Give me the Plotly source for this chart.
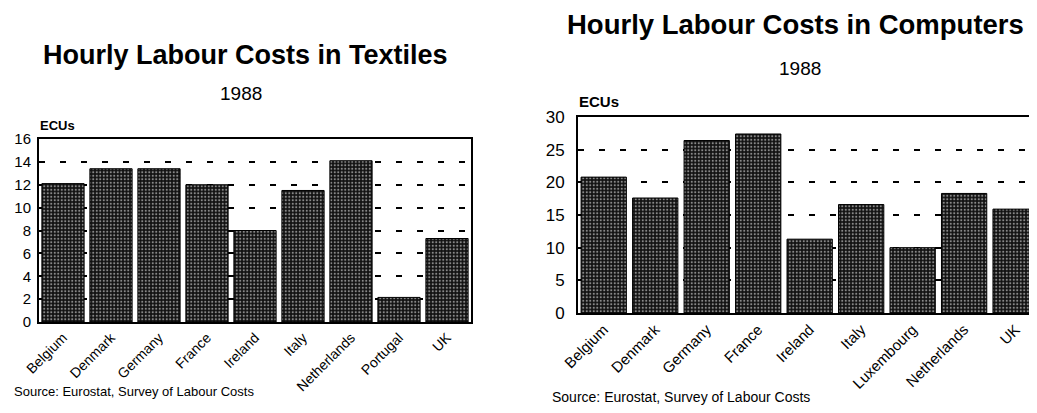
import plotly.graph_objects as go

# textiles, 1988 (ECUs per hour)
textile_countries = ["Belgium", "Denmark", "Germany", "France", "Ireland",
                     "Italy", "Netherlands", "Portugal", "UK"]
textile_costs = [12.1, 13.4, 13.4, 12.0, 8.0, 11.5, 14.1, 2.15, 7.3]

# computers, 1988 (ECUs per hour)
computer_countries = ["Belgium", "Denmark", "Germany", "France", "Ireland",
                      "Italy", "Luxembourg", "Netherlands", "UK"]
computer_costs = [20.8, 17.6, 26.4, 27.4, 11.3, 16.6, 10.0, 18.3, 15.9]

# the page body has an 8px margin, so the figure is a bit smaller than the window
OFF = 8
W, H = 1037 - 2 * OFF, 413 - 2 * OFF
FONT = "Arial, Liberation Sans, Helvetica, sans-serif"


def px(x):
    # window pixel -> paper fraction
    return (x - OFF) / W


def py(y):
    return 1 - (y - OFF) / H


bar_style = dict(
    color="black",
    line=dict(color="black", width=1),
    pattern=dict(shape=".", fgcolor="white", bgcolor="#111111",
                 size=3.5, solidity=0.3),
)

fig = go.Figure()
fig.add_trace(go.Bar(x=textile_countries, y=textile_costs, marker=bar_style,
                     xaxis="x", yaxis="y", showlegend=False))
fig.add_trace(go.Bar(x=computer_countries, y=computer_costs, marker=bar_style,
                     xaxis="x2", yaxis="y2", showlegend=False))

grid = dict(showgrid=True, gridcolor="black", gridwidth=2, griddash="6px,15px")

fig.update_layout(
    width=W, height=H,
    margin=dict(l=0, r=0, t=0, b=0),
    paper_bgcolor="white", plot_bgcolor="white",
    bargap=0.12,
    font=dict(family=FONT, color="black"),
    xaxis=dict(domain=[px(39), px(471)], anchor="y", range=[-0.5, 8.5],
               showline=True, linecolor="black", linewidth=2, mirror=True,
               ticks="", tickangle=-45, tickfont=dict(size=14), showgrid=False,
               automargin=False),
    yaxis=dict(domain=[py(322), py(139)], anchor="x", range=[0, 16],
               tickvals=[0, 2, 4, 6, 8, 10, 12, 14, 16],
               showline=True, linecolor="black", linewidth=2, mirror=True,
               ticks="", tickfont=dict(size=15), ticklabelstandoff=3,
               zeroline=False, automargin=False, **grid),
    xaxis2=dict(domain=[px(578), 1.0], anchor="y2", range=[-0.5, 8.26],
                showline=True, linecolor="black", linewidth=2, mirror=True,
                ticks="", tickangle=-45, tickfont=dict(size=15), showgrid=False,
                automargin=False),
    yaxis2=dict(domain=[py(313), py(117)], anchor="x2", range=[0, 30],
                tickvals=[0, 5, 10, 15, 20, 25, 30],
                showline=True, linecolor="black", linewidth=2, mirror=False,
                ticks="", tickfont=dict(size=17), ticklabelstandoff=8,
                zeroline=False, automargin=False, **grid),
)

notes = [
    ("<b>Hourly Labour Costs in Textiles</b>", 245, 55, 27, "center"),
    ("1988", 241, 93, 19, "center"),
    ("<b>ECUs</b>", 38, 125, 13, "left"),
    ("Source: Eurostat, Survey of Labour Costs", 12, 391, 13, "left"),
    ("<b>Hourly Labour Costs in Computers</b>", 795, 24, 27.5, "center"),
    ("1988", 800, 68, 19, "center"),
    ("<b>ECUs</b>", 577, 102, 15, "left"),
    ("Source: Eurostat, Survey of Labour Costs", 550, 397, 14, "left"),
]
for text, x, y, size, anchor in notes:
    fig.add_annotation(text=text, x=px(x), y=py(y), xref="paper", yref="paper",
                       xanchor=anchor, yanchor="middle", showarrow=False,
                       font=dict(size=size, family=FONT, color="black"))

fig.write_html("out.html")
